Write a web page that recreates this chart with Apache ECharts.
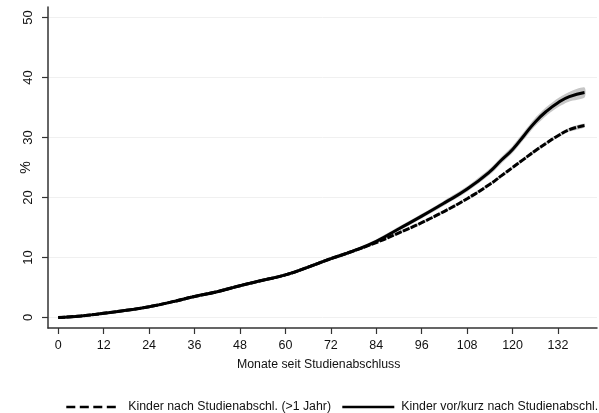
<!DOCTYPE html>
<html>
<head>
<meta charset="utf-8">
<script src="https://cdn.jsdelivr.net/npm/echarts@6/dist/echarts.min.js"></script>
<style>html,body{margin:0;padding:0;background:#fff}#c{width:599px;height:413px}</style>
</head>
<body>
<div id="c"></div>
<script>
const months = [0, 6, 12, 18, 24, 30, 36, 42, 48, 54, 60, 66, 72, 78, 84, 90, 96, 102, 108, 114, 117, 120, 123, 126, 129, 132, 135, 139];
const vorKurz = [0, 0.25, 0.7, 1.2, 1.8, 2.6, 3.5, 4.3, 5.3, 6.2, 7.1, 8.4, 9.8, 11.1, 12.7, 14.8, 16.9, 19.1, 21.4, 24.3, 26.2, 28.0, 30.3, 32.6, 34.4, 35.8, 36.8, 37.5];
const nach = [0, 0.25, 0.7, 1.2, 1.8, 2.6, 3.5, 4.3, 5.3, 6.2, 7.1, 8.4, 9.8, 11.1, 12.5, 14.1, 15.8, 17.7, 19.8, 22.2, 23.6, 25.0, 26.4, 27.8, 29.1, 30.3, 31.3, 32.0];
const ciVorKurz = [0, 0.05, 0.08, 0.1, 0.12, 0.14, 0.16, 0.18, 0.2, 0.22, 0.24, 0.26, 0.28, 0.3, 0.32, 0.35, 0.38, 0.42, 0.46, 0.52, 0.56, 0.6, 0.64, 0.68, 0.72, 0.76, 0.8, 0.85];
const ciNach = [0, 0.03, 0.05, 0.06, 0.07, 0.08, 0.09, 0.1, 0.11, 0.12, 0.13, 0.14, 0.15, 0.16, 0.17, 0.18, 0.19, 0.2, 0.22, 0.24, 0.25, 0.26, 0.27, 0.28, 0.29, 0.3, 0.31, 0.32];
const xTicks = [0, 12, 24, 36, 48, 60, 72, 84, 96, 108, 120, 132];
const yTicks = [0, 10, 20, 30, 40, 50];
const nameNach = 'Kinder nach Studienabschl. (>1 Jahr)';
const nameVor = 'Kinder vor/kurz nach Studienabschl.';

const pts = (ys) => months.map((m, i) => [m, ys[i]]);

function bandSeries(ys, ci) {
  return {
    type: 'custom', silent: true, z: 1, clip: true,
    data: [[months[0], ys[0]]],
    renderItem: function (params, api) {
      const up = months.map((m, i) => api.coord([m, ys[i] + ci[i]]));
      const lo = months.map((m, i) => api.coord([m, ys[i] - ci[i]])).reverse();
      return { type: 'polygon', shape: { points: up.concat(lo), smooth: 0.25 }, style: { fill: '#c6c6c6' } };
    }
  };
}

const font = 'Liberation Sans, Arial, sans-serif';
const legendText = { color: '#111', fontSize: 12.3, fontFamily: font };
const chart = echarts.init(document.getElementById('c'));
chart.setOption({
  animation: false,
  textStyle: { fontFamily: font },
  grid: { left: 48, right: 2, top: 7, bottom: 85, containLabel: false, outerBoundsMode: 'none' },
  xAxis: {
    type: 'value', min: -2.7, max: 142.3,
    axisLine: { show: true, onZero: false, lineStyle: { color: '#333', width: 1.5 } },
    axisTick: { show: true, customValues: xTicks, length: 6, lineStyle: { color: '#333', width: 1.2 } },
    axisLabel: { customValues: xTicks, color: '#111', fontSize: 12.5, margin: 11, fontFamily: font },
    splitLine: { show: false }
  },
  yAxis: {
    type: 'value', min: -1.75, max: 51.75,
    name: '%', nameLocation: 'middle', nameGap: 15, nameRotate: 90, nameMoveOverlap: false,
    nameTextStyle: { color: '#111', fontSize: 14, fontFamily: font },
    axisLine: { show: true, onZero: false, lineStyle: { color: '#333', width: 1.5 } },
    axisTick: { show: true, customValues: yTicks, length: 6, lineStyle: { color: '#333', width: 1.2 } },
    axisLabel: { customValues: yTicks, rotate: 90, color: '#111', fontSize: 13, margin: 13, fontFamily: font },
    splitLine: { show: true, lineStyle: { color: '#f0f0f0', width: 1 } }
  },
  legend: [
    {
      data: [{ name: nameNach, lineStyle: { type: [9, 4.5], width: 2.6 } }],
      left: 60, top: 396,
      itemWidth: 50, itemHeight: 12,
      itemStyle: { opacity: 0 },
      textStyle: Object.assign({ padding: [0, 0, 0, 7] }, legendText)
    },
    {
      data: [{ name: nameVor, lineStyle: { width: 2.6 } }],
      left: 336, top: 396,
      itemWidth: 52, itemHeight: 12,
      itemStyle: { opacity: 0 },
      textStyle: Object.assign({ padding: [0, 0, 0, 2] }, legendText)
    }
  ],
  graphic: [{
    type: 'text', left: 237, top: 359,
    style: { text: 'Monate seit Studienabschluss', fill: '#111', font: '12.3px ' + font }
  }],
  series: [
    bandSeries(vorKurz, ciVorKurz),
    bandSeries(nach, ciNach),
    { name: nameNach, type: 'line', data: pts(nach), symbol: 'none', smooth: true, z: 3,
      lineStyle: { color: '#000', width: 3, type: [7, 1.5] }, itemStyle: { color: '#000' } },
    { name: nameVor, type: 'line', data: pts(vorKurz), symbol: 'none', smooth: true, z: 4,
      lineStyle: { color: '#000', width: 3, type: 'solid' }, itemStyle: { color: '#000' } }
  ]
});
</script>
</body>
</html>
